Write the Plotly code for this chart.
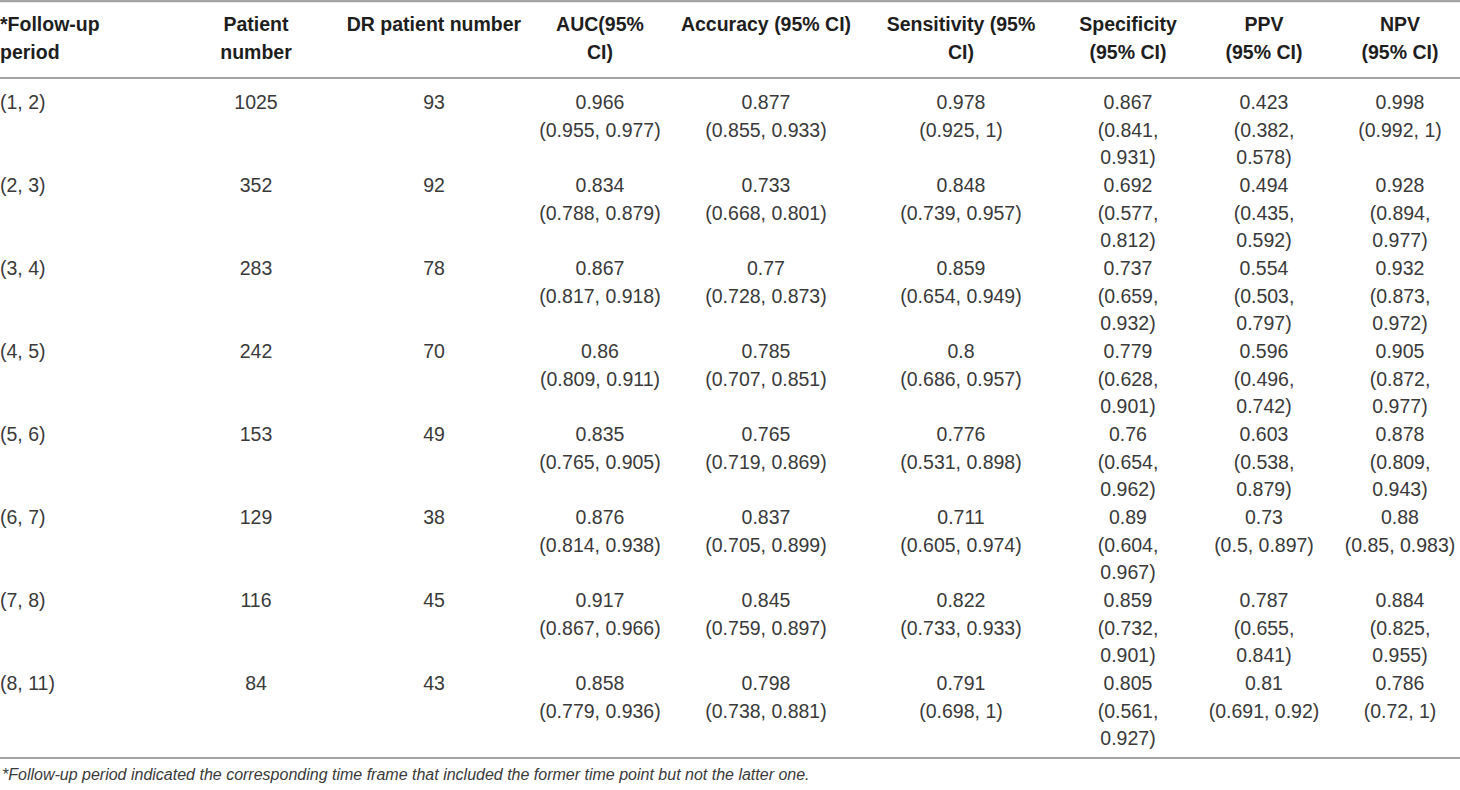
import plotly.graph_objects as go

# table data
periods = ["(1, 2)", "(2, 3)", "(3, 4)", "(4, 5)", "(5, 6)", "(6, 7)", "(7, 8)", "(8, 11)"]
patients = [1025, 352, 283, 242, 153, 129, 116, 84]
dr_patients = [93, 92, 78, 70, 49, 38, 45, 43]

auc = [0.966, 0.834, 0.867, 0.86, 0.835, 0.876, 0.917, 0.858]
auc_lo = [0.955, 0.788, 0.817, 0.809, 0.765, 0.814, 0.867, 0.779]
auc_hi = [0.977, 0.879, 0.918, 0.911, 0.905, 0.938, 0.966, 0.936]

acc = [0.877, 0.733, 0.77, 0.785, 0.765, 0.837, 0.845, 0.798]
acc_lo = [0.855, 0.668, 0.728, 0.707, 0.719, 0.705, 0.759, 0.738]
acc_hi = [0.933, 0.801, 0.873, 0.851, 0.869, 0.899, 0.897, 0.881]

sens = [0.978, 0.848, 0.859, 0.8, 0.776, 0.711, 0.822, 0.791]
sens_lo = [0.925, 0.739, 0.654, 0.686, 0.531, 0.605, 0.733, 0.698]
sens_hi = [1, 0.957, 0.949, 0.957, 0.898, 0.974, 0.933, 1]

spec = [0.867, 0.692, 0.737, 0.779, 0.76, 0.89, 0.859, 0.805]
spec_lo = [0.841, 0.577, 0.659, 0.628, 0.654, 0.604, 0.732, 0.561]
spec_hi = [0.931, 0.812, 0.932, 0.901, 0.962, 0.967, 0.901, 0.927]

ppv = [0.423, 0.494, 0.554, 0.596, 0.603, 0.73, 0.787, 0.81]
ppv_lo = [0.382, 0.435, 0.503, 0.496, 0.538, 0.5, 0.655, 0.691]
ppv_hi = [0.578, 0.592, 0.797, 0.742, 0.879, 0.897, 0.841, 0.92]

npv = [0.998, 0.928, 0.932, 0.905, 0.878, 0.88, 0.884, 0.786]
npv_lo = [0.992, 0.894, 0.873, 0.872, 0.809, 0.85, 0.825, 0.72]
npv_hi = [1, 0.977, 0.972, 0.977, 0.943, 0.983, 0.955, 1]

headers = [
    ["*Follow-up", "period"],
    ["Patient", "number"],
    ["DR patient number"],
    ["AUC(95%", "CI)"],
    ["Accuracy (95% CI)"],
    ["Sensitivity (95%", "CI)"],
    ["Specificity", "(95% CI)"],
    ["PPV", "(95% CI)"],
    ["NPV", "(95% CI)"],
]
footnote = ("*Follow-up period indicated the corresponding time frame that included "
            "the former time point but not the latter one.")

# layout (pixels)
W, H = 1460, 790
col_x = [0, 256, 434, 600, 766, 961, 1128, 1264, 1400]
head_y0, head_lh = 26, 28
row_y0, row_h, line_h = 104, 83, 27.7
FONT = "Liberation Sans, Arial, sans-serif"
TXT = "#3a3a3a"
RULE = "#a3a3a3"


def fmt(v):
    return f"{v:g}"


def metric_cells(vals, lo, hi, wrap_at=None):
    cells = []
    for v, a, b in zip(vals, lo, hi):
        ci = f"({fmt(a)}, {fmt(b)})"
        if wrap_at and len(ci) > wrap_at:
            cells.append([fmt(v), f"({fmt(a)},", f"{fmt(b)})"])
        else:
            cells.append([fmt(v), ci])
    return cells


columns = [
    [[p] for p in periods],
    [[str(n)] for n in patients],
    [[str(n)] for n in dr_patients],
    metric_cells(auc, auc_lo, auc_hi),
    metric_cells(acc, acc_lo, acc_hi),
    metric_cells(sens, sens_lo, sens_hi),
    metric_cells(spec, spec_lo, spec_hi, wrap_at=13),
    metric_cells(ppv, ppv_lo, ppv_hi, wrap_at=13),
    metric_cells(npv, npv_lo, npv_hi, wrap_at=13),
]

fig = go.Figure()

for c, (cx, head, cells) in enumerate(zip(col_x, headers, columns)):
    pos = "middle right" if c == 0 else "middle center"
    # header
    fig.add_trace(go.Scatter(
        x=[cx] * len(head),
        y=[head_y0 + k * head_lh for k in range(len(head))],
        text=[f"<b>{t}</b>" for t in head],
        mode="text", textposition=pos,
        textfont=dict(family=FONT, size=19.5, color="#1e1e1e"),
        hoverinfo="skip", showlegend=False,
    ))
    # body
    xs, ys, ts = [], [], []
    for i, lines in enumerate(cells):
        for k, t in enumerate(lines):
            xs.append(cx)
            ys.append(row_y0 + i * row_h + k * line_h)
            ts.append(t)
    fig.add_trace(go.Scatter(
        x=xs, y=ys, text=ts,
        mode="text", textposition=pos,
        textfont=dict(family=FONT, size=19.5, color=TXT),
        hoverinfo="skip", showlegend=False,
    ))

for y, w in [(1, 2.5), (78, 2), (758, 2)]:
    fig.add_shape(type="line", xref="x", yref="y", x0=0, x1=W, y0=y, y1=y,
                  line=dict(color=RULE, width=w))

fig.add_annotation(
    x=0, y=774, xref="x", yref="y", xanchor="left", yanchor="middle",
    text=f"<i>{footnote}</i>", showarrow=False,
    font=dict(family=FONT, size=16, color=TXT),
)

fig.update_layout(
    width=W, height=H,
    margin=dict(l=0, r=0, t=0, b=0),
    paper_bgcolor="white", plot_bgcolor="white",
    hovermode=False,
    xaxis=dict(range=[0, W], visible=False, fixedrange=True),
    yaxis=dict(range=[H, 0], visible=False, fixedrange=True),
)

# drop the default page margin so the figure sits at the window's corner
fig.write_html("out.html", config={"displayModeBar": False},
               post_script="document.body.style.margin='0';")
